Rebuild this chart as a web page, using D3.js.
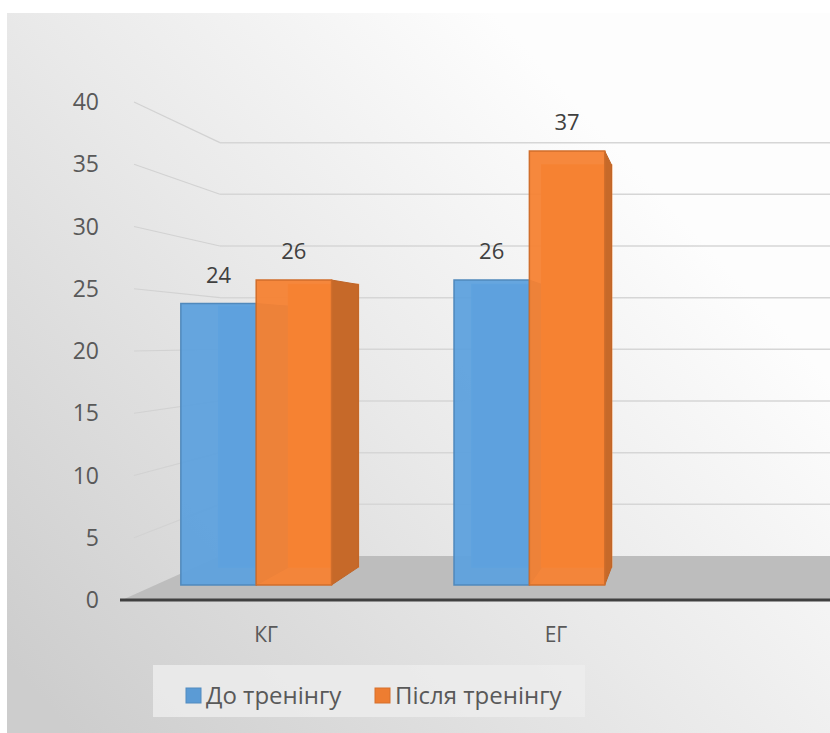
<!DOCTYPE html>
<html>
<head>
<meta charset="utf-8">
<script src="https://cdn.jsdelivr.net/npm/d3@7"></script>
<style>
  html, body { margin: 0; padding: 0; background: #ffffff; }
  svg { display: block; }
  text { font-family: "Open Sans", "Noto Sans", sans-serif; }
</style>
</head>
<body>
<div id="chart"></div>
<script>
// ---- data ----
const categories = ["КГ", "ЕГ"];
const seriesNames = ["До тренінгу", "Після тренінгу"];
const beforeTraining = [24, 26];
const afterTraining = [26, 37];
const yTicks = [0, 5, 10, 15, 20, 25, 30, 35, 40];
const seriesColors = ["#5b9bd5", "#ed7d31"];

// ---- layout ----
const W = 830, H = 733;
const VP = [698, 341];           // vanishing point
const sFloorBack = 0.83;         // back wall depth factor
const sBarFront = 0.942, sBarBack = 0.873;

const svg = d3.select("#chart").append("svg")
  .attr("width", W).attr("height", H);

const defs = svg.append("defs");
const bg = defs.append("linearGradient").attr("id", "bg")
  .attr("x1", 0).attr("y1", 0.9).attr("x2", 1).attr("y2", 0.1);
bg.append("stop").attr("offset", 0).attr("stop-color", "#cdcdcd");
bg.append("stop").attr("offset", 0.45).attr("stop-color", "#e9e9e9");
bg.append("stop").attr("offset", 0.8).attr("stop-color", "#fdfdfd");
defs.append("clipPath").attr("id", "clip").append("rect")
  .attr("x", 7).attr("y", 13).attr("width", W - 7).attr("height", H - 13);

svg.append("rect").attr("x", 7).attr("y", 13).attr("width", W - 7).attr("height", H - 13)
  .attr("fill", "url(#bg)");

const g = svg.append("g").attr("clip-path", "url(#clip)");

// scales (front plane)
const y = d3.scaleLinear().domain([0, 40]).range([600, 102]);
const x = d3.scaleBand().domain(categories).range([84, 664]).padding(0);
const xInner = d3.scaleBand().domain(seriesNames).range([-80, 80]).padding(0);

function proj(X, Y, s) { return [VP[0] + s * (X - VP[0]), VP[1] + s * (Y - VP[1])]; }
function poly(pts) { return "M" + pts.map(p => p.join(",")).join("L") + "Z"; }

const floorX0 = 122, floorX1 = 1100;

// floor
g.append("path")
  .attr("d", poly([proj(floorX0, y(0), 1), proj(floorX1, y(0), 1),
                   proj(floorX1, y(0), sFloorBack), proj(floorX0, y(0), sFloorBack)]))
  .attr("fill", "#bdbdbd");

// gridlines: side wall + back wall
yTicks.filter(t => t > 0).forEach(t => {
  const a = proj(floorX0 + 12, y(t), 1), b = proj(floorX0, y(t), sFloorBack);
  g.append("line").attr("x1", a[0]).attr("y1", a[1]).attr("x2", b[0]).attr("y2", b[1])
    .attr("stroke", "#d2d2d2").attr("stroke-width", 1.2);
  const c = proj(floorX1, y(t), sFloorBack);
  g.append("line").attr("x1", b[0]).attr("y1", b[1]).attr("x2", c[0]).attr("y2", c[1])
    .attr("stroke", "#d6d6d6").attr("stroke-width", 1.5);
});

// front axis line
g.append("line")
  .attr("x1", floorX0 - 2).attr("x2", W).attr("y1", y(0)).attr("y2", y(0))
  .attr("stroke", "#404040").attr("stroke-width", 3);

// bars
const bars = [];
categories.forEach((c, ci) => {
  [beforeTraining, afterTraining].forEach((vals, si) => {
    const cx = x(c) + x.bandwidth() / 2;
    const X0 = cx + xInner(seriesNames[si]);
    const X1 = X0 + xInner.bandwidth();
    bars.push({ c, si, v: vals[ci], X0, X1 });
  });
});

const shade = (col, k) => d3.color(col).darker(k).formatHex();
const light = (col, k) => d3.color(col).brighter(k).formatHex();

bars.forEach(b => {
  const col = seriesColors[b.si];
  const front = light(col, 0.1);
  const Yt = y(b.v), Yb = y(0);
  const gg = g.append("g");
  // back face
  gg.append("path").attr("d", poly([proj(b.X0, Yt, sBarBack), proj(b.X1, Yt, sBarBack),
      proj(b.X1, Yb, sBarBack), proj(b.X0, Yb, sBarBack)]))
    .attr("fill", front).attr("stroke", light(col, 0.35)).attr("stroke-width", 1.5);
  // right face
  gg.append("path").attr("d", poly([proj(b.X1, Yt, sBarFront), proj(b.X1, Yt, sBarBack),
      proj(b.X1, Yb, sBarBack), proj(b.X1, Yb, sBarFront)]))
    .attr("fill", shade(col, 0.5)).attr("stroke", shade(col, 0.6)).attr("stroke-width", 1);
  // front face
  gg.append("path").attr("d", poly([proj(b.X0, Yt, sBarFront), proj(b.X1, Yt, sBarFront),
      proj(b.X1, Yb, sBarFront), proj(b.X0, Yb, sBarFront)]))
    .attr("fill", front).attr("fill-opacity", 0.95)
    .attr("stroke", shade(col, 0.35)).attr("stroke-width", 1.5);
});

// data labels
bars.forEach(b => {
  const t = proj((b.X0 + b.X1) / 2, y(b.v), sBarFront);
  g.append("text").attr("x", t[0]).attr("y", t[1] - 21)
    .attr("text-anchor", "middle").attr("font-size", 22).attr("fill", "#404040")
    .text(b.v);
});

// y tick labels
svg.append("g").selectAll("text").data(yTicks).join("text")
  .attr("x", 99).attr("y", d => y(d)).attr("dy", "0.35em")
  .attr("text-anchor", "end").attr("font-size", 23).attr("fill", "#595959")
  .text(d => d);

// category labels
svg.append("g").selectAll("text").data(categories).join("text")
  .attr("x", d => x(d) + x.bandwidth() / 2 + 37).attr("y", 635).attr("dy", "0.35em")
  .attr("text-anchor", "middle").attr("font-size", 21).attr("fill", "#595959")
  .text(d => d);

// legend
const leg = svg.append("g");
leg.append("rect").attr("x", 153).attr("y", 665).attr("width", 432).attr("height", 52)
  .attr("fill", "#ececec").attr("fill-opacity", 0.85);
const legX = [186, 375];
seriesNames.forEach((n, i) => {
  leg.append("rect").attr("x", legX[i]).attr("y", 688).attr("width", 15).attr("height", 15)
    .attr("fill", seriesColors[i]).attr("stroke", shade(seriesColors[i], 0.3)).attr("stroke-width", 1);
  leg.append("text").attr("x", legX[i] + 20).attr("y", 695.5).attr("dy", "0.35em")
    .attr("font-size", 24).attr("fill", "#595959").text(n);
});
</script>
</body>
</html>
